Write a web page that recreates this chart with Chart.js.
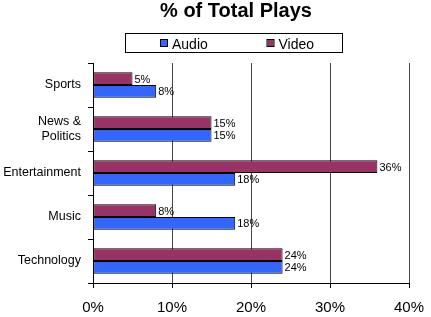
<!DOCTYPE html>
<html>
<head>
<meta charset="utf-8">
<script src="https://cdn.jsdelivr.net/npm/chart.js@4/dist/chart.umd.min.js"></script>
<style>
  html, body { margin: 0; padding: 0; background: #fff; }
  #wrap { width: 431px; height: 317px; }
</style>
</head>
<body>
<div id="wrap"><canvas id="playsChart" width="431" height="317"></canvas></div>
<script>
const categories = ['Sports', ['News &', 'Politics'], 'Entertainment', 'Music', 'Technology'];
const audio = [8, 15, 18, 18, 24];
const video = [5, 15, 36, 8, 24];
const xTicks = [0, 10, 20, 30, 40];

const FONT = '"Liberation Sans", Arial, sans-serif';

// labels at the end of each bar
const barLabels = {
  id: 'barLabels',
  afterDatasetsDraw(chart) {
    const ctx = chart.ctx;
    ctx.save();
    ctx.font = '11px ' + FONT;
    ctx.fillStyle = '#000';
    ctx.textBaseline = 'middle';
    chart.data.datasets.forEach((ds, i) => {
      chart.getDatasetMeta(i).data.forEach((bar, j) => {
        ctx.fillText(ds.data[j] + '%', bar.x + 2, bar.y + 1);
      });
    });
    ctx.restore();
  }
};

// title + boxed legend, placed like the old excel chart (not centred on the canvas)
const header = {
  id: 'header',
  afterDraw(chart) {
    const ctx = chart.ctx;
    ctx.save();
    ctx.fillStyle = '#000';
    ctx.textAlign = 'center';
    ctx.textBaseline = 'alphabetic';
    ctx.font = 'bold 20px ' + FONT;
    ctx.fillText('% of Total Plays', 236, 17);

    ctx.strokeStyle = '#000';
    ctx.lineWidth = 1;
    ctx.strokeRect(125.5, 33.5, 217, 19);

    // legend order: Audio then Video (datasets are stored the other way round)
    const items = chart.data.datasets.slice().reverse();
    const xs = [161, 267.5];
    ctx.textAlign = 'left';
    ctx.font = '14px ' + FONT;
    items.forEach((ds, k) => {
      ctx.fillStyle = ds.backgroundColor;
      ctx.fillRect(xs[k], 40, 6, 6);
      ctx.strokeStyle = '#000';
      ctx.strokeRect(xs[k] - 0.5, 39.5, 7, 7);
      ctx.fillStyle = '#000';
      ctx.fillText(ds.label, xs[k] + 11, 49);
    });
    ctx.restore();
  }
};

new Chart(document.getElementById('playsChart'), {
  type: 'bar',
  data: {
    labels: categories,
    datasets: [
      {
        label: 'Video',
        data: video,
        backgroundColor: '#993366',
        borderColor: '#000',
        borderWidth: 1,
        borderSkipped: false,
        categoryPercentage: 0.58,
        barPercentage: 1.0
      },
      {
        label: 'Audio',
        data: audio,
        backgroundColor: '#3366FF',
        borderColor: '#000',
        borderWidth: 1,
        borderSkipped: false,
        categoryPercentage: 0.58,
        barPercentage: 1.0
      }
    ]
  },
  options: {
    indexAxis: 'y',
    responsive: false,
    maintainAspectRatio: false,
    animation: false,
    layout: { padding: { left: 0, right: 0, top: 63, bottom: 4 } },
    plugins: {
      title: { display: false },
      legend: { display: false },
      tooltip: { enabled: false }
    },
    scales: {
      x: {
        min: 0,
        max: 40,
        afterBuildTicks(scale) { scale.ticks = xTicks.map(v => ({ value: v })); },
        border: { color: '#000', width: 1 },
        grid: { color: '#444', tickLength: 5, tickColor: '#000' },
        ticks: {
          color: '#000',
          padding: 11,
          font: { family: FONT, size: 15 },
          callback: v => v + '%'
        },
        afterFit(scale) {
          scale.height = 30;
          scale.paddingRight = 22; // 40% gridline lands at x≈409
        }
      },
      y: {
        border: { color: '#000', width: 1 },
        grid: { drawOnChartArea: false, tickLength: 5, color: '#000' },
        ticks: {
          color: '#000',
          padding: 7,
          font: { family: FONT, size: 12.5 }
        },
        afterFit(scale) { scale.width = 93; }
      }
    }
  },
  plugins: [barLabels, header]
});
</script>
</body>
</html>
